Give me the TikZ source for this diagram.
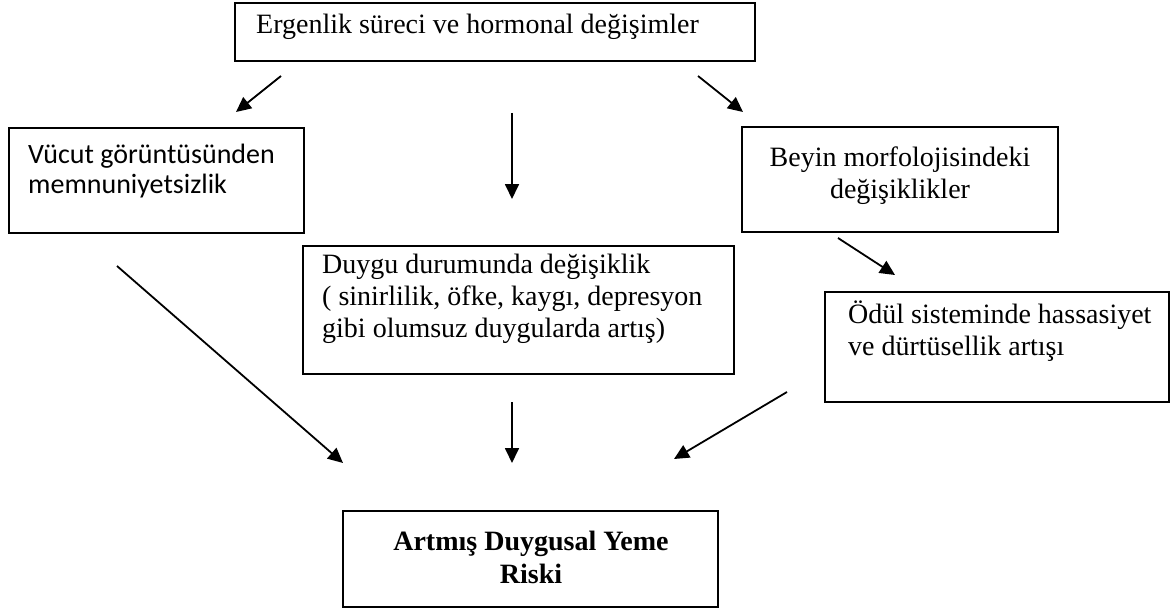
\documentclass[tikz,border=0pt]{standalone}
\usepackage{fontspec}
\setmainfont{Liberation Serif}
\newfontfamily\calibrifont{Carlito}
\usetikzlibrary{arrows.meta}
\begin{document}
\begin{tikzpicture}[x=1pt,y=-1pt,
  box/.style={draw, line width=1.6pt, inner sep=0pt, minimum width=#1},
  txt/.style={inner sep=0pt, font=\fontsize{28}{32}\selectfont},
  arr/.style={line width=1.8pt, -{Triangle[length=15pt,width=14pt]}}]
\useasboundingbox (0,0) rectangle (1171,610);
% boxes
\node[box=520pt, minimum height=58pt] (btop) at (495,32) {};
\node[box=295pt, minimum height=105pt] (bleft) at (156.5,180.5) {};
\node[box=316pt, minimum height=105pt] (bbeyin) at (900,179.5) {};
\node[box=431pt, minimum height=128pt] (bduygu) at (518.5,310) {};
\node[box=344pt, minimum height=110pt] (bodul) at (997,347) {};
\node[box=375pt, minimum height=96pt] (brisk) at (530.5,559) {};
% texts (base anchor = baseline of the last line)
\node[txt, anchor=base west] (ttop) at (256,34) {Ergenlik süreci ve hormonal değişimler};
\node[txt, anchor=base west, align=left, font=\calibrifont\fontsize{28}{30}\selectfont] (tleft) at (28,193) {Vücut görüntüsünden\\memnuniyetsizlik};
\node[txt, anchor=base, align=center] (tbeyin) at (900,198) {Beyin morfolojisindeki\\değişiklikler};
\node[txt, anchor=base west, align=left] (tduygu) at (322,337) {Duygu durumunda değişiklik\\( sinirlilik, öfke, kaygı, depresyon\\gibi olumsuz duygularda artış)};
\node[txt, anchor=base west, align=left] (todul) at (848,355) {Ödül sisteminde hassasiyet\\ve dürtüsellik artışı};
\node[txt, anchor=base, align=center, font=\bfseries\fontsize{28}{33}\selectfont] (trisk) at (531,583) {Artmış Duygusal Yeme\\Riski};
% arrow end points
\coordinate (a1s) at (281,76);  \coordinate (a1e) at (236,112);
\coordinate (a2s) at (512,113); \coordinate (a2e) at (512,199);
\coordinate (a3s) at (698,76);  \coordinate (a3e) at (743,112);
\coordinate (a4s) at (838,238); \coordinate (a4e) at (895,275);
\coordinate (a5s) at (117,266); \coordinate (a5e) at (343,463);
\coordinate (a6s) at (512,402); \coordinate (a6e) at (512,463);
\coordinate (a7s) at (787,392); \coordinate (a7e) at (674,459);
\foreach \s/\e in {a1s/a1e,a2s/a2e,a3s/a3e,a4s/a4e,a5s/a5e,a6s/a6e,a7s/a7e}
  \draw[arr] (\s) -- (\e);
\end{tikzpicture}
\end{document}
